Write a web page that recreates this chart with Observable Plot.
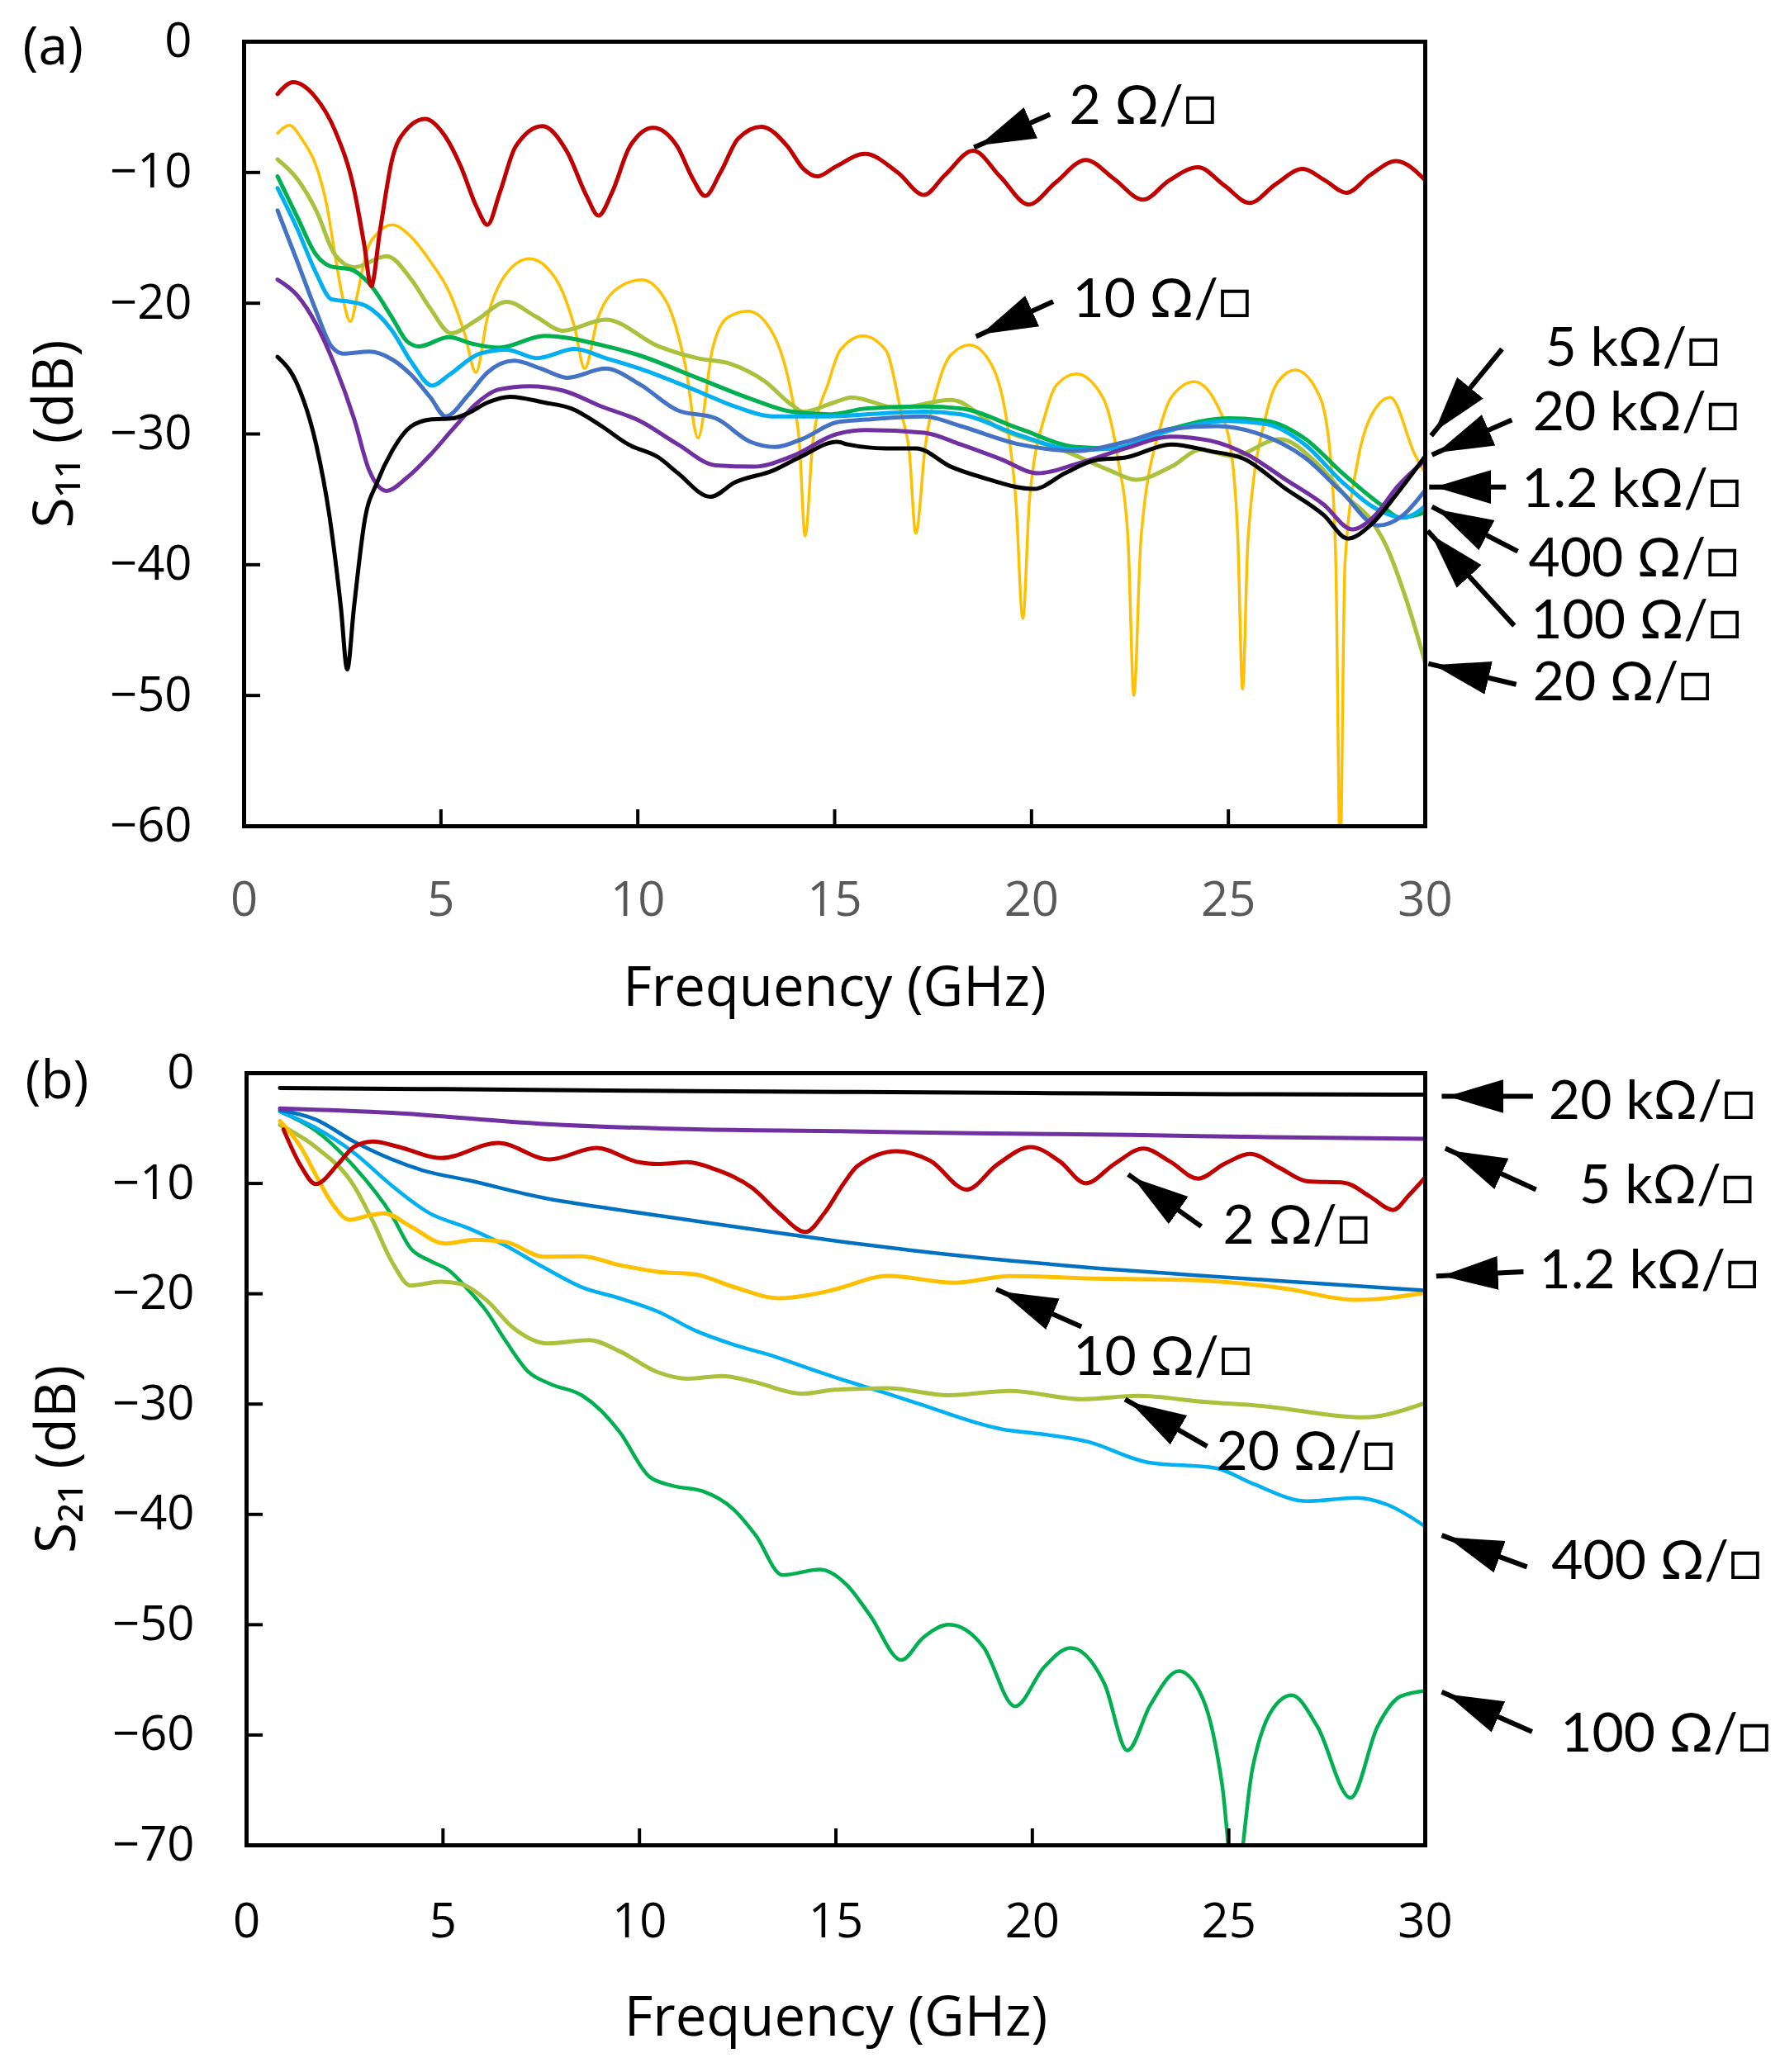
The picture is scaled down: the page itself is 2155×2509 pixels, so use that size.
<!DOCTYPE html>
<html>
<head>
<meta charset="utf-8">
<script src="https://cdn.jsdelivr.net/npm/d3@7"></script>
<script src="https://cdn.jsdelivr.net/npm/@observablehq/plot@0.6"></script>
<style>
  body { margin: 0; background: #fff; width: 2155px; height: 2509px; overflow: hidden; }
  #chart svg { display: block; }
</style>
</head>
<body>
<div id="chart"></div>
<script>
// axis ticks
const xTicks = [0, 5, 10, 15, 20, 25, 30];
const yTicksA = [0, -10, -20, -30, -40, -50, -60];
const yTicksB = [0, -10, -20, -30, -40, -50, -60, -70];

// (a) S11, [GHz, dB]
const s11_2 = [[0.85,-4.0],[1.25,-3.1],[1.8,-4.2],[2.31,-6.8],[2.8,-11.4],[3.05,-15.5],[3.23,-18.7],[3.45,-14.5],[3.76,-9.0],[4.1,-6.8],[4.6,-5.9],[5.1,-7.2],[5.5,-9.5],[5.9,-12.6],[6.18,-14.0],[6.5,-11.5],[6.9,-8.0],[7.58,-6.46],[8.2,-8.4],[8.7,-11.8],[9.0,-13.3],[9.35,-11.5],[9.8,-8.0],[10.39,-6.58],[11.0,-8.0],[11.4,-10.5],[11.71,-11.8],[12.1,-10.0],[12.55,-7.4],[13.14,-6.5],[13.8,-8.0],[14.2,-9.7],[14.56,-10.3],[15.0,-9.6],[15.77,-8.57],[16.6,-10.0],[17.27,-11.72],[17.8,-10.2],[18.52,-8.33],[19.2,-10.3],[19.93,-12.45],[20.6,-10.8],[21.38,-9.05],[22.1,-10.5],[22.83,-12.08],[23.5,-10.6],[24.23,-9.6],[24.9,-11.0],[25.54,-12.33],[26.2,-10.9],[26.89,-9.73],[27.45,-10.6],[28.0,-11.55],[28.6,-10.2],[29.26,-9.13],[30.0,-10.6]];
const s11_10 = [[0.85,-7.0],[1.15,-6.4],[1.5,-7.6],[1.83,-9.5],[2.1,-12.5],[2.31,-16.3],[2.5,-19.5],[2.7,-21.4],[2.9,-19.0],[3.09,-16.3],[3.4,-14.6],[3.76,-14.0],[4.2,-14.8],[4.73,-16.8],[5.22,-19.2],[5.6,-22.3],[5.89,-25.3],[6.18,-21.1],[6.67,-17.7],[7.25,-16.6],[7.7,-17.3],[8.1,-19.2],[8.4,-21.9],[8.65,-25.0],[8.99,-21.1],[9.57,-18.7],[10.1,-18.2],[10.73,-19.9],[11.21,-24.8],[11.53,-30.3],[11.89,-23.6],[12.28,-21.1],[12.8,-20.6],[13.43,-22.3],[13.92,-27.2],[14.1,-30.5],[14.25,-37.8],[14.45,-30.5],[14.85,-26.0],[15.14,-23.6],[15.72,-22.5],[16.3,-23.6],[16.69,-28.4],[16.9,-31.5],[17.06,-37.6],[17.3,-31.0],[17.65,-26.0],[17.94,-24.0],[18.43,-23.2],[19.0,-24.8],[19.4,-29.6],[19.6,-35.0],[19.78,-44.1],[19.95,-35.0],[20.36,-28.4],[20.65,-26.2],[21.14,-25.4],[21.81,-27.2],[22.2,-32.0],[22.45,-38.0],[22.6,-50.0],[22.78,-38.0],[23.26,-29.6],[23.55,-27.2],[24.13,-26.0],[24.81,-28.4],[25.1,-32.0],[25.24,-38.0],[25.36,-49.5],[25.5,-38.0],[25.97,-28.4],[26.26,-26.0],[26.7,-25.1],[27.33,-27.2],[27.6,-32.0],[27.73,-40.0],[27.84,-62],[27.96,-40.0],[28.29,-32.0],[28.58,-28.9],[29.11,-27.2],[29.74,-31.6],[30.0,-33.0]];
const s11_20 = [[0.85,-9.0],[1.35,-10.5],[1.83,-12.9],[2.31,-16.3],[2.8,-17.25],[3.62,-16.4],[4.25,-18.2],[4.73,-20.4],[5.26,-22.3],[5.9,-21.3],[6.67,-19.9],[7.4,-21.0],[8.1,-22.1],[9.18,-21.25],[10.53,-23.3],[11.5,-24.2],[12.37,-24.65],[13.24,-26.0],[13.92,-27.8],[14.2,-28.3],[14.98,-27.6],[15.43,-27.2],[16.59,-28.0],[17.95,-27.4],[19.2,-29.6],[20.85,-31.3],[22.0,-32.8],[22.65,-33.5],[23.55,-32.5],[24.3,-31.2],[25.1,-31.7],[26.3,-30.4],[27.3,-32.4],[28.0,-34.8],[28.6,-36.5],[29.0,-38.5],[29.5,-42.5],[30.0,-47.5]];
const s11_100 = [[0.85,-10.3],[1.35,-13.4],[1.83,-16.3],[2.22,-17.2],[2.7,-17.4],[3.18,-18.5],[3.76,-21.1],[4.15,-22.95],[4.44,-23.3],[5.2,-22.6],[5.8,-23.1],[6.47,-23.4],[7.63,-22.5],[9.08,-23.2],[10.05,-24.0],[11.5,-25.7],[12.95,-27.4],[13.92,-28.3],[14.88,-28.5],[15.8,-28.05],[17.27,-27.9],[18.2,-28.05],[19.7,-29.6],[21.14,-31.0],[22.1,-31.1],[23.55,-29.6],[25.0,-28.8],[25.97,-29.0],[26.94,-30.35],[27.9,-33.0],[28.87,-35.4],[29.36,-36.4],[30.0,-36.0]];
const s11_400 = [[0.85,-11.2],[1.35,-14.3],[1.83,-17.7],[2.22,-19.7],[2.7,-19.9],[3.09,-20.2],[3.76,-22.1],[4.25,-24.5],[4.78,-26.3],[5.2,-25.5],[5.99,-23.85],[6.66,-23.55],[7.44,-24.2],[8.4,-23.5],[9.18,-24.2],[10.05,-25.0],[11.5,-26.7],[12.47,-27.9],[13.43,-28.65],[14.88,-28.65],[15.8,-28.5],[17.27,-28.3],[18.2,-28.5],[19.7,-30.1],[21.14,-31.2],[22.1,-31.1],[23.55,-29.7],[25.0,-29.0],[25.97,-29.25],[26.94,-30.8],[27.9,-33.7],[28.87,-35.9],[29.45,-36.4],[30.0,-35.5]];
const s11_1k2 = [[0.85,-12.9],[1.35,-16.8],[1.83,-20.6],[2.22,-23.3],[2.51,-23.85],[3.18,-23.7],[3.76,-24.3],[4.25,-25.5],[4.73,-27.2],[5.12,-28.65],[5.7,-27.0],[6.18,-25.3],[6.86,-24.4],[7.54,-25.0],[8.21,-25.7],[9.18,-25.0],[10.05,-26.2],[11.02,-28.2],[11.98,-28.8],[12.86,-30.6],[13.48,-31.0],[14.2,-30.35],[15.06,-29.1],[15.8,-28.9],[17.27,-28.65],[18.2,-29.4],[19.7,-30.8],[21.14,-31.3],[22.39,-30.6],[23.55,-29.6],[24.71,-29.4],[25.68,-29.9],[26.94,-31.8],[27.9,-34.5],[28.8,-37.0],[29.4,-36.3],[30.0,-34.3]];
const s11_5k = [[0.85,-18.2],[1.35,-19.4],[1.83,-21.6],[2.31,-24.8],[2.8,-28.9],[3.18,-32.8],[3.62,-34.35],[4.15,-33.3],[4.73,-31.6],[5.31,-29.6],[5.89,-27.7],[6.47,-26.6],[7.25,-26.35],[8.12,-26.7],[9.08,-27.9],[10.05,-29.0],[11.02,-30.8],[11.98,-32.4],[12.95,-32.5],[13.92,-31.7],[15.06,-30.0],[15.8,-29.7],[17.27,-29.9],[18.2,-30.8],[19.2,-31.9],[20.17,-33.0],[21.14,-32.3],[22.39,-31.1],[23.55,-30.2],[24.52,-30.5],[25.49,-31.6],[26.46,-33.5],[27.42,-35.4],[28.15,-37.3],[28.7,-36.3],[29.3,-34.0],[30.0,-32.0]];
const s11_20k = [[0.85,-24.1],[1.35,-26.2],[1.83,-30.8],[2.17,-36.3],[2.46,-43.3],[2.62,-48.0],[2.79,-43.3],[3.07,-36.5],[3.38,-33.7],[3.76,-31.3],[4.25,-29.4],[4.73,-28.9],[5.31,-28.8],[5.7,-28.4],[6.18,-27.6],[6.76,-27.15],[7.63,-27.6],[8.31,-28.05],[9.08,-29.4],[9.76,-30.8],[10.53,-31.8],[11.02,-33.0],[11.84,-34.8],[12.47,-33.7],[13.43,-32.8],[14.1,-31.8],[15.06,-30.6],[15.33,-30.8],[16.3,-31.1],[17.07,-31.1],[17.95,-32.5],[18.72,-33.3],[20.07,-34.2],[20.85,-33.0],[21.62,-32.0],[22.39,-31.8],[23.55,-30.8],[24.52,-31.3],[25.39,-31.9],[26.46,-34.2],[27.42,-36.2],[28.04,-38.0],[28.6,-37.0],[29.3,-34.5],[30.0,-31.7]];

// (b) S21, [GHz, dB]
const s21_20k = [[0.85,-1.35],[5,-1.45],[10,-1.6],[15,-1.7],[20,-1.8],[25,-1.9],[30,-1.95]];
const s21_5k = [[0.85,-3.2],[3.7,-3.6],[7.56,-4.6],[11.43,-5.1],[14.98,-5.26],[18.5,-5.45],[22.5,-5.6],[26,-5.8],[30,-5.95]];
const s21_1k2 = [[0.85,-3.35],[1.76,-4.2],[2.73,-6.2],[3.7,-7.82],[4.47,-8.8],[5.63,-9.7],[7.56,-11.3],[9.49,-12.4],[11.43,-13.4],[13.36,-14.4],[14.98,-15.2],[17.0,-16.1],[19.42,-17.0],[21.7,-17.7],[24.07,-18.3],[27.0,-19.0],[30.0,-19.7]];
const s21_2 = [[0.94,-5.1],[1.38,-8.4],[1.76,-10.06],[2.34,-8.2],[2.73,-6.7],[3.21,-6.2],[3.89,-6.7],[4.95,-7.7],[6.4,-6.33],[7.71,-7.82],[8.91,-6.78],[9.98,-8.07],[10.46,-8.24],[11.23,-8.07],[11.91,-8.7],[12.88,-10.43],[13.55,-12.67],[14.23,-14.4],[14.71,-12.67],[15.2,-10.0],[15.54,-8.44],[16.55,-7.07],[17.4,-7.94],[18.33,-10.55],[19.1,-8.3],[19.96,-6.7],[20.7,-8.0],[21.36,-9.98],[22.1,-8.2],[22.83,-6.83],[23.5,-8.0],[24.22,-9.56],[24.9,-8.2],[25.54,-7.32],[26.3,-8.6],[27.01,-9.81],[27.94,-9.93],[28.6,-11.2],[29.18,-12.4],[29.6,-11.0],[30.0,-9.44]];
const s21_10 = [[0.85,-4.34],[1.38,-6.7],[1.76,-9.2],[2.15,-11.67],[2.63,-13.3],[3.12,-12.9],[3.5,-12.7],[4.18,-13.9],[5.05,-15.45],[5.82,-15.1],[6.6,-15.3],[7.56,-16.64],[8.53,-16.6],[9.49,-17.4],[10.46,-18.0],[11.43,-18.25],[12.39,-19.37],[13.55,-20.4],[14.33,-20.1],[14.98,-19.6],[16.32,-18.38],[18.02,-19.0],[19.42,-18.4],[21.74,-18.63],[24.07,-18.75],[26.39,-19.5],[28.25,-20.56],[30.0,-19.9]];
const s21_20 = [[0.85,-4.7],[1.76,-6.7],[2.73,-10.2],[3.21,-13.4],[3.7,-17.1],[4.18,-19.25],[4.95,-18.9],[5.44,-19.1],[6.11,-20.6],[6.79,-23.1],[7.66,-24.5],[8.72,-24.2],[9.49,-25.2],[10.46,-27.1],[11.23,-27.7],[12.1,-27.45],[12.88,-27.95],[14.13,-29.06],[14.98,-28.7],[16.32,-28.56],[17.87,-29.2],[19.42,-28.8],[21.28,-29.56],[22.67,-29.26],[24.38,-29.8],[25.93,-30.2],[28.41,-31.2],[30.0,-29.9]];
const s21_400 = [[0.85,-3.47],[1.76,-4.96],[2.73,-7.2],[3.7,-10.2],[4.66,-12.7],[5.63,-14.03],[6.6,-15.65],[7.56,-17.6],[8.53,-19.4],[9.49,-20.4],[10.46,-21.6],[11.43,-23.35],[12.39,-24.6],[13.36,-25.6],[14.33,-26.8],[15.0,-27.6],[16.32,-29.06],[17.08,-29.94],[19.26,-32.3],[20.2,-32.7],[21.4,-33.4],[22.96,-35.3],[24.67,-35.8],[25.6,-37.2],[27.0,-38.8],[28.25,-38.5],[29.02,-39.1],[30.0,-41.1]];
const s21_100 = [[0.85,-3.47],[1.76,-5.2],[2.73,-8.44],[3.7,-12.9],[4.18,-15.9],[4.66,-17.0],[5.15,-17.88],[5.63,-19.6],[6.11,-21.6],[6.6,-24.3],[7.18,-27.1],[7.75,-28.2],[8.53,-29.2],[9.01,-30.55],[9.49,-32.5],[10.26,-36.6],[10.84,-37.4],[11.61,-37.9],[12.38,-39.5],[12.96,-41.9],[13.64,-45.5],[14.6,-45.0],[15.28,-46.4],[15.86,-49.1],[16.67,-53.2],[17.21,-51.2],[17.88,-50.0],[18.75,-52.0],[19.56,-57.4],[20.3,-53.85],[20.97,-52.1],[21.84,-55.4],[22.42,-61.4],[23.0,-57.3],[23.73,-54.2],[24.35,-56.8],[24.83,-64.5],[25.15,-74],[25.6,-63.1],[26.09,-57.8],[26.6,-56.4],[27.25,-59.2],[28.1,-65.7],[28.79,-59.2],[29.37,-56.5],[30.0,-56.0]];

// annotations: label text and where it sits, arrow tail -> tip (data coords)
const labelsA = [
  {text: "2 Ω/□", x: 20.96, y: -4.93},
  {text: "10 Ω/□", x: 21.04, y: -19.71},
  {text: "5 kΩ/□", x: 33.04, y: -23.44},
  {text: "20 kΩ/□", x: 32.73, y: -28.36},
  {text: "1.2 kΩ/□", x: 32.45, y: -34.24},
  {text: "400 Ω/□", x: 32.62, y: -39.55},
  {text: "100 Ω/□", x: 32.68, y: -44.28},
  {text: "20 Ω/□", x: 32.73, y: -49.02}
];
const arrowsA = [
  {x1: 20.47, y1: -5.56, x2: 18.54, y2: -8.09},
  {x1: 20.55, y1: -19.87, x2: 18.59, y2: -22.55},
  {x1: 31.95, y1: -23.5, x2: 30.15, y2: -30.13},
  {x1: 32.2, y1: -28.93, x2: 30.17, y2: -31.59},
  {x1: 32.05, y1: -34.05, x2: 30.1, y2: -34.05},
  {x1: 32.35, y1: -38.98, x2: 30.17, y2: -35.57},
  {x1: 32.26, y1: -44.66, x2: 30.06, y2: -37.4},
  {x1: 32.31, y1: -49.15, x2: 30.08, y2: -47.57}
];
const labelsB = [
  {text: "20 kΩ/□", x: 33.14, y: -2.55},
  {text: "5 kΩ/□", x: 33.92, y: -10.18},
  {text: "1.2 kΩ/□", x: 32.9, y: -17.9},
  {text: "2 Ω/□", x: 24.85, y: -13.9},
  {text: "10 Ω/□", x: 21.04, y: -25.75},
  {text: "20 Ω/□", x: 24.68, y: -34.36},
  {text: "400 Ω/□", x: 33.21, y: -44.3},
  {text: "100 Ω/□", x: 33.44, y: -59.9}
];
const arrowsB = [
  {x1: 32.74, y1: -2.1, x2: 30.42, y2: -2.1},
  {x1: 32.82, y1: -10.55, x2: 30.51, y2: -6.81},
  {x1: 32.5, y1: -18.0, x2: 30.28, y2: -18.4},
  {x1: 24.3, y1: -13.9, x2: 22.44, y2: -9.18},
  {x1: 21.25, y1: -22.98, x2: 19.08, y2: -19.6},
  {x1: 24.45, y1: -33.83, x2: 22.36, y2: -29.57},
  {x1: 32.59, y1: -44.76, x2: 30.42, y2: -41.9},
  {x1: 32.72, y1: -59.7, x2: 30.42, y2: -56.1}
];

const seriesA = [
  {pts: s11_10, color: "#ffc000", w: 3.5},
  {pts: s11_20, color: "#a9c13c", w: 5},
  {pts: s11_100, color: "#00b050", w: 5},
  {pts: s11_400, color: "#00b0f0", w: 5},
  {pts: s11_1k2, color: "#4472c4", w: 5},
  {pts: s11_5k, color: "#7030a0", w: 5},
  {pts: s11_20k, color: "#000000", w: 5},
  {pts: s11_2, color: "#c00000", w: 5}
];
const seriesB = [
  {pts: s21_100, color: "#00b050", w: 4.5},
  {pts: s21_400, color: "#00b0f0", w: 4.5},
  {pts: s21_20, color: "#a9c13c", w: 5},
  {pts: s21_10, color: "#ffc000", w: 5},
  {pts: s21_1k2, color: "#0070c0", w: 4.5},
  {pts: s21_2, color: "#c00000", w: 5},
  {pts: s21_5k, color: "#7030a0", w: 5},
  {pts: s21_20k, color: "#000000", w: 5}
];

const tickFont = "Open Sans, DejaVu Sans, sans-serif";
const noteFont = "Lato, Noto Sans, DejaVu Sans, sans-serif";

// turn plot's open arrow markers into solid black heads
function solidHeads(svg) {
  d3.select(svg).selectAll("marker")
    .attr("viewBox", "-12 -6 12 12")
    .attr("refX", 1.2)
    .attr("markerUnits", "userSpaceOnUse")
    .attr("markerWidth", 68)
    .attr("markerHeight", 68)
    .attr("fill", "black")
    .attr("stroke", "none")
    .selectAll("path").attr("d", "M-12,-3.6L0,0L-12,3.6Z");
}

function panel(p) {
  const svg = Plot.plot({
    width: 2155,
    height: p.height,
    marginTop: p.mt, marginLeft: p.ml, marginRight: p.mr, marginBottom: p.mb,
    style: {fontFamily: tickFont, background: "white", color: "black"},
    x: {domain: [0, 30]},
    y: {domain: p.ydom},
    marks: [
      ...p.series.map(s => Plot.line(s.pts, {x: d => d[0], y: d => d[1], stroke: s.color, strokeWidth: s.w, curve: "monotone-x", clip: true})),
      // inward ticks
      Plot.axisX({ticks: xTicks, tickSize: 20, dy: -20, strokeWidth: 4, tickFormat: () => "", label: null}),
      Plot.axisY({ticks: p.yticks, tickSize: 20, dx: 20, strokeWidth: 4, tickFormat: () => "", label: null}),
      // tick labels
      Plot.axisX({ticks: xTicks, tickSize: 0, tickPadding: p.xpad, fontSize: 58, fill: p.xfill, label: null}),
      Plot.axisY({ticks: p.yticks, tickSize: 0, tickPadding: 63, fontSize: 58, label: null}),
      Plot.frame({stroke: "black", strokeWidth: 5}),
      Plot.text([p.xtitle], {frameAnchor: "bottom", dy: p.xdy, text: d => d, fontSize: 67}),
      Plot.text([p.ytitle], {frameAnchor: "left", dx: -229, rotate: -90, textAnchor: "middle", lineAnchor: "middle", text: d => d, fontSize: 68}),
      Plot.text([p.tag], {frameAnchor: "top-left", dx: -268, dy: p.tagdy, text: d => d, fontSize: 64}),
      Plot.link(p.arrows, {x1: "x1", y1: "y1", x2: "x2", y2: "y2", stroke: "black", strokeWidth: 6, markerEnd: "arrow"}),
      Plot.text(p.labels, {x: "x", y: "y", text: "text", textAnchor: "start", lineAnchor: "middle", fontSize: 66, fontFamily: noteFont, fill: "black"})
    ]
  });
  solidHeads(svg);
  return svg;
}

const div = document.querySelector("#chart");

div.append(panel({
  height: 1250, mt: 50, ml: 295, mr: 430, mb: 250,
  ydom: [-60, 0], yticks: yTicksA, series: seriesA,
  xpad: 67, xfill: "#595959", xdy: 217,
  xtitle: "Frequency (GHz)", ytitle: "S₁₁ (dB)", tag: "(a)", tagdy: -18,
  labels: labelsA, arrows: arrowsA
}));

div.append(panel({
  height: 1259, mt: 49, ml: 298, mr: 430, mb: 275,
  ydom: [-70, 0], yticks: yTicksB, series: seriesB,
  xpad: 70, xfill: "black", xdy: 230,
  xtitle: "Frequency (GHz)", ytitle: "S₂₁ (dB)", tag: "(b)", tagdy: -15,
  labels: labelsB, arrows: arrowsB
}));
</script>
</body>
</html>
